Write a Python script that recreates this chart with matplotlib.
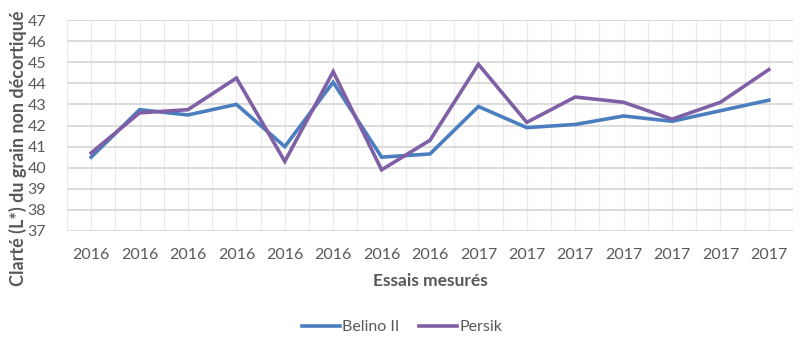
import matplotlib
matplotlib.use("Agg")
import matplotlib.pyplot as plt
import numpy as np

years = ["2016"] * 8 + ["2017"] * 7
belino = [40.5, 42.75, 42.5, 43.0, 41.0, 44.05, 40.5, 40.65,
          42.9, 41.9, 42.05, 42.45, 42.2, 42.7, 43.2]
persik = [40.7, 42.6, 42.75, 44.25, 40.3, 44.55, 39.9, 41.3,
          44.9, 42.15, 43.35, 43.1, 42.3, 43.1, 44.65]
y_ticks = list(range(37, 48))

plt.rcParams["font.family"] = ["Lato", "DejaVu Sans"]
text_col = "#595959"

fig = plt.figure(figsize=(8.0, 3.41), dpi=100)
ax = fig.add_axes([67 / 800, 1 - 231 / 341, (793 - 67) / 800, (231 - 20) / 341])

x = np.arange(len(years))
ax.set_xlim(-0.5, len(years) - 0.5)
ax.set_ylim(37, 47)

# grid: light vertical lines at centres and boundaries, darker horizontal lines
for v in np.arange(-0.5, len(years), 0.5):
    ax.axvline(v, color="#ebebeb", lw=1.0, zorder=0)
for t in y_ticks:
    ax.axhline(t, color="#d9d9d9", lw=1.3, zorder=0.5)

ax.plot(x, belino, color="#4a7ebf", lw=2.6, label="Belino II", zorder=2,
        solid_joinstyle="miter")
ax.plot(x, persik, color="#7f5fa6", lw=2.6, label="Persik", zorder=3,
        solid_joinstyle="miter")

for s in ax.spines.values():
    s.set_visible(False)

ax.set_xticks(x)
ax.set_xticklabels(years)
ax.set_yticks(y_ticks)
ax.tick_params(axis="both", length=0, colors=text_col, labelsize=11.5)
ax.tick_params(axis="x", pad=12)
ax.tick_params(axis="y", pad=15)

ax.set_xlabel("Essais mesurés", fontsize=12.5, fontweight="bold", color=text_col, labelpad=8)
fig.text(18 / 800, 1 - 148 / 341, "Clarté (L*) du grain non décortiqué", rotation=90,
         ha="center", va="center", fontsize=13, fontweight="bold", color=text_col)

leg = fig.legend(loc="center", bbox_to_anchor=(402 / 800, 1 - 327 / 341), ncol=2,
                 frameon=False, fontsize=11.5, handlelength=2.4, handletextpad=0.15,
                 columnspacing=1.2)
for t in leg.get_texts():
    t.set_color(text_col)

fig.savefig("out.png", dpi=100)
